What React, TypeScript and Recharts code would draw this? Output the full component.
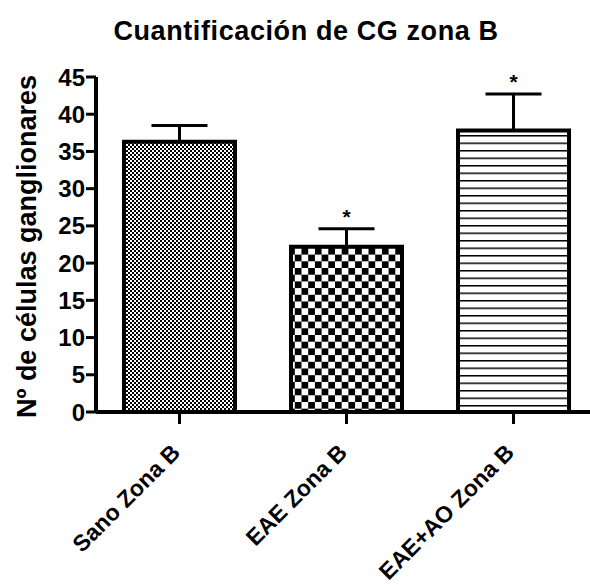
import React from 'react'
import { Bar, Cell, ComposedChart, ErrorBar, Line, XAxis, YAxis, Label } from 'recharts'

const groups = ['Sano Zona B', 'EAE Zona B', 'EAE+AO Zona B']
const means = [36.3, 22.2, 37.8]
const sems = [2.2, 2.4, 4.9]
const significant = [false, true, true]
const yTicks = [0, 5, 10, 15, 20, 25, 30, 35, 40, 45]
const fills = ['url(#fineCheck)', 'url(#coarseCheck)', 'url(#hLines)']

const data = groups.map((name, i) => ({
  name,
  mean: means[i],
  err: [0, sems[i]],
  star: significant[i] ? means[i] + sems[i] : null,
}))

const FONT = '"Liberation Sans", Arial, sans-serif'

function XTick({ x, y, payload }) {
  return (
    <g transform={`translate(${x + 2},${y + 28})`}>
      <text x={0} y={0} textAnchor="end" transform="rotate(-45)" fontFamily={FONT}
        fontWeight="bold" fontSize={23} fill="#000">
        {payload.value}
      </text>
    </g>
  )
}

function Star({ cx, cy }) {
  if (cy == null || isNaN(cy)) return <g />
  return (
    <text x={cx} y={cy - 5} textAnchor="middle" fontFamily={FONT} fontWeight="bold"
      fontSize={21} fill="#000">*</text>
  )
}

export default function App() {
  return (
    <div style={{ position: 'fixed', left: 0, top: 0, width: 590, height: 585, overflow: 'hidden', background: '#fff' }}>
      <div style={{ position: 'absolute', left: 0, width: 612, top: 16, textAlign: 'center', fontFamily: FONT,
        fontWeight: 'bold', fontSize: 27, letterSpacing: 0.6, color: '#000' }}>
        Cuantificación de CG zona B
      </div>
      <ComposedChart width={600} height={585} data={data} margin={{ top: 77, right: 3, bottom: 0, left: 0 }}
        style={{ position: 'absolute', left: 0, top: 0 }}>
        <defs>
          <pattern id="fineCheck" patternUnits="userSpaceOnUse" width={4} height={4}>
            <rect width={4} height={4} fill="#fff" />
            <rect x={0} y={0} width={2} height={2} fill="#000" />
            <rect x={2} y={2} width={2} height={2} fill="#000" />
          </pattern>
          <pattern id="coarseCheck" patternUnits="userSpaceOnUse" width={13.4} height={13.4}>
            <rect width={13.4} height={13.4} fill="#fff" />
            <rect x={0} y={0} width={6.7} height={6.7} fill="#000" />
            <rect x={6.7} y={6.7} width={6.7} height={6.7} fill="#000" />
          </pattern>
          <pattern id="hLines" patternUnits="userSpaceOnUse" width={8} height={7.5}>
            <rect width={8} height={7.5} fill="#fff" />
            <rect x={0} y={0} width={8} height={1.5} fill="#000" />
          </pattern>
        </defs>
        <XAxis dataKey="name" height={173} interval={0} tick={<XTick />}
          axisLine={{ stroke: '#000', strokeWidth: 4 }} tickLine={{ stroke: '#000', strokeWidth: 3 }}
          tickSize={12} tickMargin={2} />
        <YAxis domain={[0, 45]} ticks={yTicks} width={96} interval={0}
          axisLine={{ stroke: '#000', strokeWidth: 4 }} tickLine={{ stroke: '#000', strokeWidth: 3 }}
          tickSize={10} tickMargin={1}
          tick={{ fill: '#000', fontFamily: FONT, fontWeight: 'bold', fontSize: 24 }}>
          <Label content={({ viewBox }) => (
            <text x={36} y={viewBox.y + viewBox.height / 2 + 2} textAnchor="middle"
              transform={`rotate(-90, 36, ${viewBox.y + viewBox.height / 2 + 2})`}
              fontFamily={FONT} fontWeight="bold" fontSize={27} fill="#000">
              Nº de células ganglionares
            </text>
          )} />
        </YAxis>
        <Bar dataKey="mean" barSize={111} stroke="#000" strokeWidth={4} isAnimationActive={false}>
          {data.map((d, i) => <Cell key={d.name} fill={fills[i]} />)}
          <ErrorBar dataKey="err" direction="y" width={28} stroke="#000" strokeWidth={3} />
        </Bar>
        <Line dataKey="star" stroke="none" dot={<Star />} activeDot={false} isAnimationActive={false}
          connectNulls={false} />
      </ComposedChart>
    </div>
  )
}
